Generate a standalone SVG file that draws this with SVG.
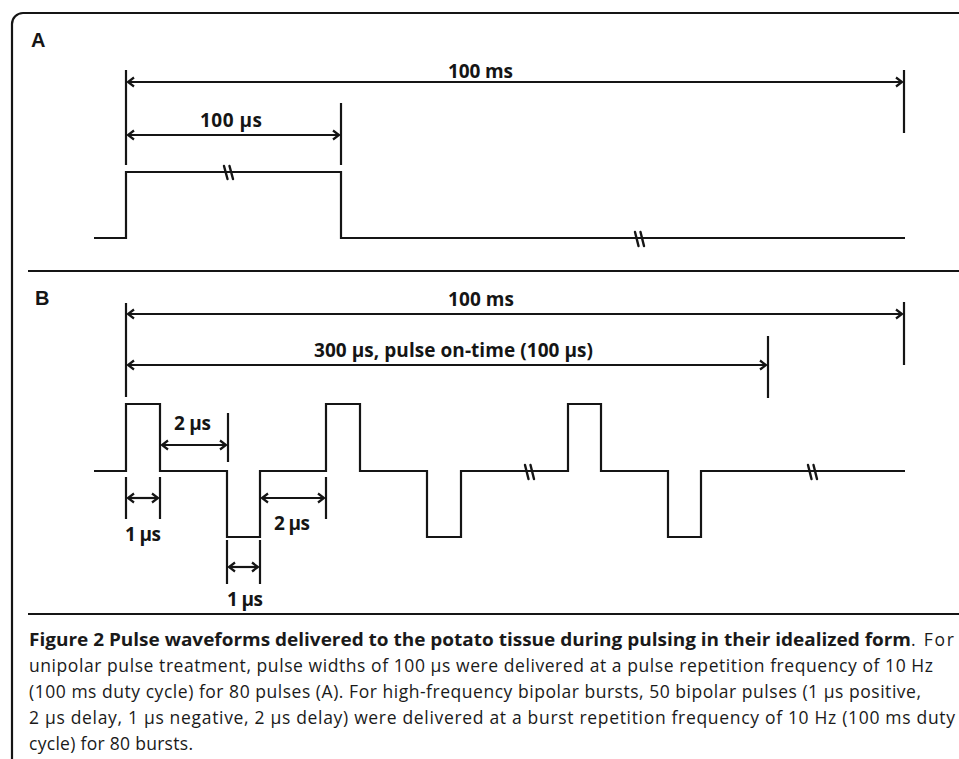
<svg xmlns="http://www.w3.org/2000/svg" width="959" height="759" viewBox="0 0 959 759">
<style>
.ln{fill:none;stroke:#151515;stroke-width:2.2;stroke-linejoin:miter}
.dim{fill:none;stroke:#151515;stroke-width:2.2}
.arr{marker-start:url(#ah);marker-end:url(#ah)}
.brk{fill:none;stroke:#151515;stroke-width:2.4;stroke-linecap:round}
.lbl{font-family:"Open Sans","Liberation Sans",sans-serif;font-weight:bold;font-size:19px;fill:#151515}
.pl{font-family:"Liberation Sans",Arial,sans-serif;font-weight:bold;font-size:20px;fill:#151515}
.cap{font-family:"Open Sans","Noto Sans",sans-serif;font-size:17.5px;fill:#1a1a1a}
.capb{font-weight:bold}
</style>
<defs>
<marker id="ah" markerUnits="userSpaceOnUse" markerWidth="14" markerHeight="14" refX="0" refY="0" viewBox="-8 -7 10 14" orient="auto-start-reverse">
<path d="M-6,-4.5 L0,0 L-6,4.5" fill="none" stroke="#151515" stroke-width="2.2"/>
</marker>
</defs>
<rect width="959" height="759" fill="#ffffff"/>
<path class="ln" d="M12,759 V24 A11,11 0 0 1 23,13 H959"/>
<line class="ln" x1="28" y1="271" x2="959" y2="271"/>
<line class="ln" x1="28" y1="614" x2="959" y2="614"/>

<g id="panel-A">
<text class="pl" x="31" y="47">A</text>
<path class="ln" d="M94,238 H126 V172 H341 V238 H905"/>
<path class="brk" d="M224,166 L227.5,179 M229.5,166 L233,179"/>
<path class="brk" d="M635,232 L638.5,246 M640.5,232 L644,246"/>
<g id="dims-A">
<line class="dim" x1="126" y1="70" x2="126" y2="165"/>
<line class="dim" x1="904" y1="70" x2="904" y2="133"/>
<line class="dim" x1="341" y1="103" x2="341" y2="165"/>
<line class="dim arr" x1="128" y1="82" x2="902" y2="82"/>
<line class="dim arr" x1="128" y1="135" x2="339" y2="135"/>
</g>
<text class="lbl" x="448" y="78" textLength="65">100 ms</text>
<text class="lbl" x="200" y="127" textLength="62">100 µs</text>
</g>

<g id="panel-B">
<text class="pl" x="35" y="305">B</text>
<path class="ln" d="M94,471 H126 V404 H160 V471 H227 V537 H260 V471 H326 V404 H360 V471 H427 V537 H461 V471 H568 V404 H601 V471 H668 V537 H701 V471 H905"/>
<path class="brk" d="M525,465 L528.5,479 M530.5,465 L534,479"/>
<path class="brk" d="M808,465 L811.5,479 M813.5,465 L817,479"/>
<g id="dims-B">
<line class="dim" x1="126" y1="303" x2="126" y2="397"/>
<line class="dim" x1="904" y1="302" x2="904" y2="365"/>
<line class="dim" x1="768" y1="336" x2="768" y2="398"/>
<line class="dim arr" x1="128" y1="314" x2="902" y2="314"/>
<line class="dim arr" x1="128" y1="365" x2="766" y2="365"/>
<line class="dim" x1="228" y1="413" x2="228" y2="462"/>
<line class="dim arr" x1="162" y1="445" x2="226" y2="445"/>
<line class="dim" x1="126" y1="477" x2="126" y2="519"/>
<line class="dim" x1="160" y1="477" x2="160" y2="519"/>
<line class="dim arr" x1="128" y1="498" x2="158" y2="498"/>
<line class="dim" x1="326" y1="477" x2="326" y2="519"/>
<line class="dim arr" x1="262" y1="498" x2="324" y2="498"/>
<line class="dim" x1="227" y1="540" x2="227" y2="584"/>
<line class="dim" x1="260" y1="540" x2="260" y2="584"/>
<line class="dim arr" x1="229" y1="567" x2="258" y2="567"/>
</g>
<text class="lbl" x="448" y="306" textLength="66">100 ms</text>
<text class="lbl" x="314" y="357" textLength="279">300 µs, pulse on-time (100 µs)</text>
<text class="lbl" x="174" y="430" textLength="37">2 µs</text>
<text class="lbl" x="125" y="541" textLength="36">1 µs</text>
<text class="lbl" x="274" y="530" textLength="36">2 µs</text>
<text class="lbl" x="227" y="606" textLength="36">1 µs</text>
</g>

<g id="caption">
<text class="cap capb" x="29" y="646" textLength="882" lengthAdjust="spacingAndGlyphs">Figure 2 Pulse waveforms delivered to the potato tissue during pulsing in their idealized form</text>
<text class="cap" x="911" y="646" textLength="43" lengthAdjust="spacing">. For</text>
<text class="cap" x="29" y="672" textLength="904" lengthAdjust="spacing">unipolar pulse treatment, pulse widths of 100 µs were delivered at a pulse repetition frequency of 10 Hz</text>
<text class="cap" x="29" y="698" textLength="892" lengthAdjust="spacing">(100 ms duty cycle) for 80 pulses (A). For high-frequency bipolar bursts, 50 bipolar pulses (1 µs positive,</text>
<text class="cap" x="29" y="724" textLength="926" lengthAdjust="spacing">2 µs delay, 1 µs negative, 2 µs delay) were delivered at a burst repetition frequency of 10 Hz (100 ms duty</text>
<text class="cap" x="29" y="750" textLength="164" lengthAdjust="spacing">cycle) for 80 bursts.</text>
</g>
</svg>
